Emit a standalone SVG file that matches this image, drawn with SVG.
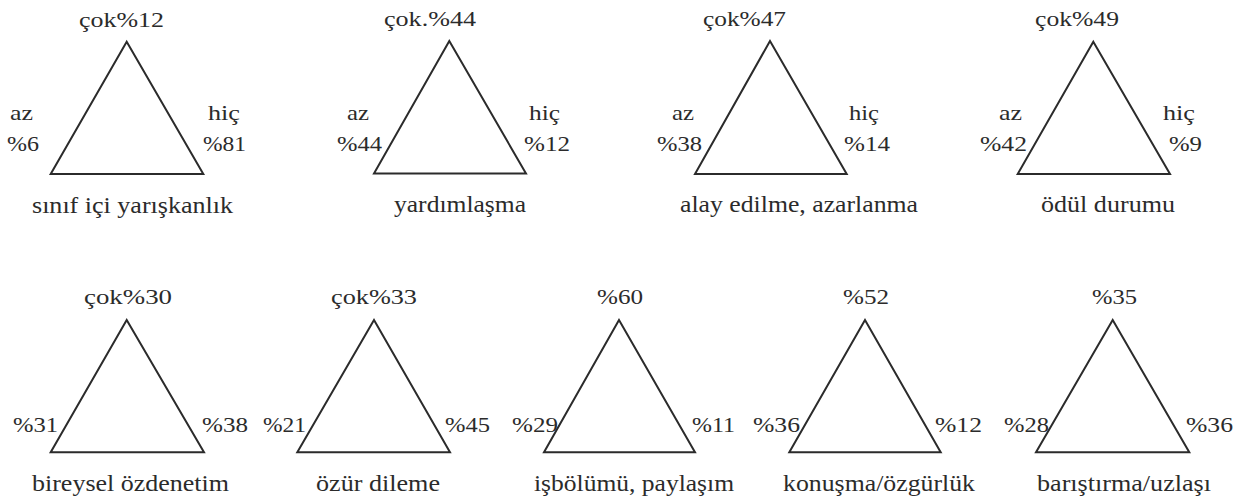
<svg xmlns="http://www.w3.org/2000/svg" width="1249" height="504" viewBox="0 0 1249 504" font-family="Liberation Serif, serif">
<style>
.tri{fill:none;stroke:#2b2b2b;stroke-width:2;stroke-linejoin:miter}
text{font-family:'Liberation Serif',serif;font-size:22px;fill:#2b2b2b}
.lb{font-size:23px}
</style>
<rect width="1249" height="504" fill="#fff"/>
<g id="t1">
<polygon class="tri" points="126.7,41.7 50.7,174 203.3,174"/>
<text x="79" y="27" textLength="85" lengthAdjust="spacingAndGlyphs">çok%12</text>
<text x="10" y="120" textLength="23" lengthAdjust="spacingAndGlyphs">az</text>
<text x="7" y="151" textLength="32" lengthAdjust="spacingAndGlyphs">%6</text>
<text x="208" y="120" textLength="32" lengthAdjust="spacingAndGlyphs">hiç</text>
<text x="203" y="151" textLength="43" lengthAdjust="spacingAndGlyphs">%81</text>
<text class="lb" x="32" y="213" textLength="201" lengthAdjust="spacingAndGlyphs">sınıf içi yarışkanlık</text>
</g>
<g id="t2">
<polygon class="tri" points="449.3,41 374,173.5 526,173.5"/>
<text x="384" y="26" textLength="92" lengthAdjust="spacingAndGlyphs">çok.%44</text>
<text x="347" y="120" textLength="22" lengthAdjust="spacingAndGlyphs">az</text>
<text x="337" y="151" textLength="45" lengthAdjust="spacingAndGlyphs">%44</text>
<text x="529" y="120" textLength="31" lengthAdjust="spacingAndGlyphs">hiç</text>
<text x="524" y="151" textLength="46" lengthAdjust="spacingAndGlyphs">%12</text>
<text class="lb" x="394" y="212" textLength="132" lengthAdjust="spacingAndGlyphs">yardımlaşma</text>
</g>
<g id="t3">
<polygon class="tri" points="770,41 695,174 846.7,174"/>
<text x="703" y="26" textLength="83" lengthAdjust="spacingAndGlyphs">çok%47</text>
<text x="672" y="120" textLength="22" lengthAdjust="spacingAndGlyphs">az</text>
<text x="657" y="151" textLength="45" lengthAdjust="spacingAndGlyphs">%38</text>
<text x="849" y="120" textLength="30" lengthAdjust="spacingAndGlyphs">hiç</text>
<text x="844" y="151" textLength="46" lengthAdjust="spacingAndGlyphs">%14</text>
<text class="lb" x="680" y="212" textLength="238" lengthAdjust="spacingAndGlyphs">alay edilme, azarlanma</text>
</g>
<g id="t4">
<polygon class="tri" points="1093.3,41.7 1017.7,174 1170,174"/>
<text x="1035" y="26" textLength="84" lengthAdjust="spacingAndGlyphs">çok%49</text>
<text x="999" y="120" textLength="23" lengthAdjust="spacingAndGlyphs">az</text>
<text x="980" y="151" textLength="47" lengthAdjust="spacingAndGlyphs">%42</text>
<text x="1163" y="120" textLength="32" lengthAdjust="spacingAndGlyphs">hiç</text>
<text x="1169" y="151" textLength="33" lengthAdjust="spacingAndGlyphs">%9</text>
<text class="lb" x="1041" y="212" textLength="134" lengthAdjust="spacingAndGlyphs">ödül durumu</text>
</g>
<g id="t5">
<polygon class="tri" points="126.7,320 50.7,452.3 204,452.3"/>
<text x="84" y="304" textLength="88" lengthAdjust="spacingAndGlyphs">çok%30</text>
<text x="13" y="432" textLength="45" lengthAdjust="spacingAndGlyphs">%31</text>
<text x="202" y="432" textLength="46" lengthAdjust="spacingAndGlyphs">%38</text>
<text class="lb" x="32" y="491" textLength="197" lengthAdjust="spacingAndGlyphs">bireysel özdenetim</text>
</g>
<g id="t6">
<polygon class="tri" points="374,320 297.3,452.3 450,452.3"/>
<text x="331" y="304" textLength="86" lengthAdjust="spacingAndGlyphs">çok%33</text>
<text x="263" y="432" textLength="43" lengthAdjust="spacingAndGlyphs">%21</text>
<text x="445" y="432" textLength="45" lengthAdjust="spacingAndGlyphs">%45</text>
<text class="lb" x="316" y="491" textLength="124" lengthAdjust="spacingAndGlyphs">özür dileme</text>
</g>
<g id="t7">
<polygon class="tri" points="619,320 544,452.3 695,452.3"/>
<text x="597" y="304" textLength="46" lengthAdjust="spacingAndGlyphs">%60</text>
<text x="512" y="432" textLength="46" lengthAdjust="spacingAndGlyphs">%29</text>
<text x="692" y="432" textLength="43" lengthAdjust="spacingAndGlyphs">%11</text>
<text class="lb" x="534" y="491" textLength="200" lengthAdjust="spacingAndGlyphs">işbölümü, paylaşım</text>
</g>
<g id="t8">
<polygon class="tri" points="865,320 789.3,452.3 940.7,452.3"/>
<text x="843" y="304" textLength="46" lengthAdjust="spacingAndGlyphs">%52</text>
<text x="753" y="432" textLength="47" lengthAdjust="spacingAndGlyphs">%36</text>
<text x="935" y="432" textLength="47" lengthAdjust="spacingAndGlyphs">%12</text>
<text class="lb" x="783" y="491" textLength="192" lengthAdjust="spacingAndGlyphs">konuşma/özgürlük</text>
</g>
<g id="t9">
<polygon class="tri" points="1112.7,320 1036,452.3 1189.3,452.3"/>
<text x="1092" y="304" textLength="45" lengthAdjust="spacingAndGlyphs">%35</text>
<text x="1004" y="432" textLength="45" lengthAdjust="spacingAndGlyphs">%28</text>
<text x="1186" y="432" textLength="47" lengthAdjust="spacingAndGlyphs">%36</text>
<text class="lb" x="1037" y="491" textLength="174" lengthAdjust="spacingAndGlyphs">barıştırma/uzlaşı</text>
</g>
<g id="connectors"/>
</svg>
